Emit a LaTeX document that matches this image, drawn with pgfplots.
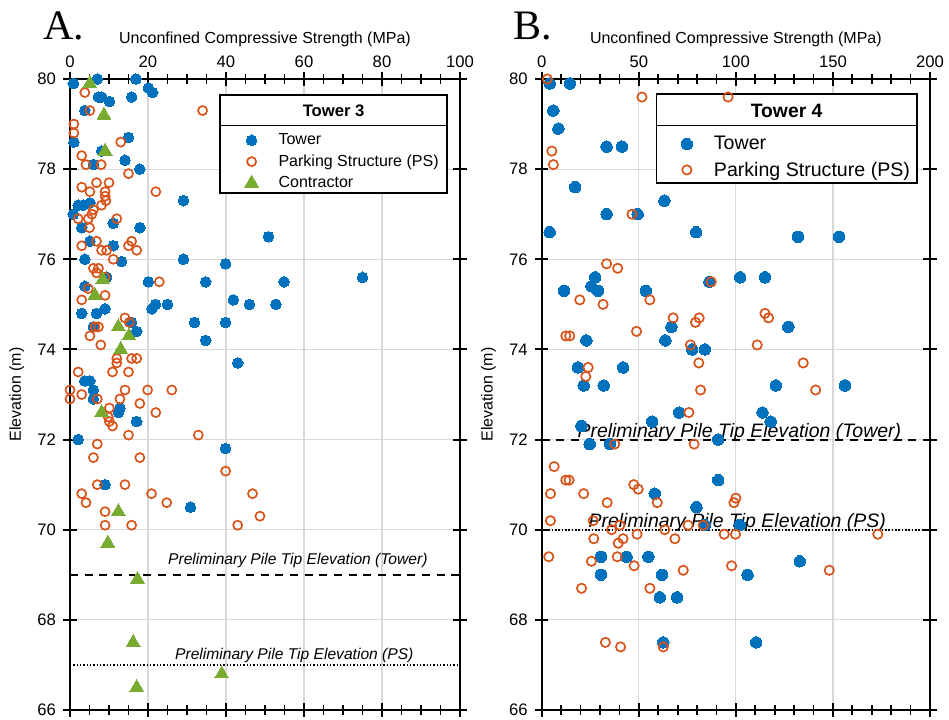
\documentclass[border=0pt]{standalone}
\usepackage{pgfplots}
\pgfplotsset{compat=1.18}
\usepackage{fontspec}
\setmainfont{Liberation Sans}
\newfontfamily\seriffont{Liberation Serif}
\definecolor{mblue}{RGB}{0,114,189}
\definecolor{morange}{RGB}{217,83,25}
\definecolor{mgreen}{RGB}{119,172,48}
\pgfplotsset{
  myaxis/.style={
    scale only axis, anchor=south west,
    height=473.25pt,
    ymin=66, ymax=80, ytick={66,68,...,80},
    xticklabel pos=upper,
    tick align=center, tick pos=both,
    major tick length=10pt, minor tick length=7pt,
    axis line style={line width=1.7pt},
    every major tick/.append style={black, line width=1.5pt},
    every minor tick/.append style={black, line width=1.3pt},
    ymajorgrids, xmajorgrids,
    major grid style={black!15, line width=0.9pt},
    /pgf/number format/assume math mode=true,
    ticklabel style={font=\fontsize{12.5}{14}\selectfont},
    yticklabel style={xshift=-2pt},
    label style={font=\fontsize{12}{14}\selectfont},
    ylabel style={yshift=3pt},
    xlabel={Unconfined Compressive Strength (MPa)},
    ylabel={Elevation (m)},
    clip=false,
    legend cell align=left,
  },
  tower/.style={only marks, mark=*, mark size=4pt, mark options={fill=mblue, draw=mblue, line width=0pt}},
  park/.style={only marks, mark=o, mark size=3.4pt, mark options={draw=morange, line width=1.25pt}},
  contr/.style={only marks, mark=triangle*, mark size=6pt, mark options={fill=mgreen, draw=mgreen, line width=0pt}},
}
\begin{document}
\begin{tikzpicture}
\useasboundingbox (0,0) rectangle (711.75pt,539.25pt);
% ---------------- Panel A ----------------
\begin{axis}[myaxis, at={(52.5pt,6.75pt)}, width=292.5pt,
  xmin=0, xmax=100, xtick={0,20,...,100},
  minor xtick={5,10,15,25,30,35,45,50,55,65,70,75,85,90,95},
  legend style={draw=none, fill=none, at={(rel axis cs:0.437,0.922)}, anchor=north west,
    font=\fontsize{12}{14}\selectfont, row sep=2pt,
    /tikz/every odd column/.append style={column sep=13pt}},
]
\addplot[tower] coordinates {
(0.85,79.9) (7.0,80.0) (16.9,80.0) (20.1,79.8) (21.2,79.7) (7.3,79.6) (8.1,79.6) (10.1,79.5)
(15.8,79.6) (3.8,79.3) (15.0,78.7) (1.0,78.6) (8.1,78.4) (14.1,78.2) (17.9,78.0) (6.0,78.1)
(29.1,77.3) (2.1,77.2) (3.4,77.2) (5.1,77.25) (0.85,77.0) (11.1,76.8) (17.9,76.7) (50.9,76.5)
(3.0,76.7) (5.1,76.4) (11.1,76.3) (3.8,76.0) (13.2,75.95) (29.1,76.0) (39.9,75.9) (20.1,75.5)
(34.8,75.5) (9.4,75.6) (3.8,75.4) (41.9,75.1) (46.0,75.0) (52.8,75.0) (21.0,74.9) (21.9,75.0)
(25.0,75.0) (3.0,74.8) (6.8,74.8) (9.0,74.9) (54.9,75.5) (75.0,75.6) (31.9,74.6) (39.9,74.6)
(34.8,74.2) (6.0,74.5) (15.8,74.6) (17.1,74.4) (43.0,73.7) (3.8,73.3) (5.1,73.3) (6.0,73.1)
(6.0,72.9) (12.8,72.7) (12.4,72.6) (17.1,72.4) (2.1,72.0) (39.9,71.8) (9.0,71.0) (30.9,70.5)
};
\addlegendentry{Tower}
\addplot[park] coordinates {
(3.8,79.7) (5.1,79.3) (34.0,79.3) (1.0,79.0) (1.0,78.8) (13.0,78.6) (3.0,78.3) (4.1,78.1)
(8.0,78.1) (15.0,77.9) (3.0,77.6) (6.8,77.7) (10.0,77.7) (22.0,77.5) (5.1,77.5) (9.0,77.5)
(9.0,77.4) (9.2,77.3) (8.1,77.2) (6.0,77.1) (5.6,77.0) (2.1,76.9) (4.7,76.9) (12.0,76.9)
(5.0,76.7) (3.0,76.3) (6.8,76.4) (8.1,76.2) (9.4,76.2) (15.8,76.4) (15.0,76.3) (17.1,76.2)
(11.1,76.0) (6.0,75.8) (7.3,75.8) (6.8,75.7) (9.0,75.6) (22.9,75.5) (4.7,75.35) (9.0,75.2)
(3.0,75.1) (14.1,74.7) (15.2,74.6) (6.4,74.5) (7.3,74.5) (5.1,74.3) (7.9,74.1) (12.0,73.8)
(12.0,73.7) (15.8,73.8) (17.1,73.8) (2.1,73.5) (10.9,73.5) (15.0,73.5) (0.0,73.1) (0.0,72.9)
(3.0,73.0) (14.1,73.1) (19.9,73.1) (26.1,73.1) (7.0,72.9) (12.8,72.9) (17.9,72.8) (10.1,72.7)
(22.0,72.6) (9.8,72.5) (10.1,72.4) (10.9,72.3) (15.0,72.1) (32.9,72.1) (7.0,71.9) (6.0,71.6)
(17.9,71.6) (39.9,71.3) (7.0,71.0) (14.1,71.0) (3.0,70.8) (4.1,70.6) (20.9,70.8) (24.8,70.6)
(46.8,70.8) (9.0,70.4) (48.7,70.3) (9.0,70.1) (15.8,70.1) (43.0,70.1)
};
\addlegendentry{Parking Structure (PS)}
\addplot[contr] coordinates {
(5.1,79.9) (8.7,79.2) (9.0,78.4) (8.4,75.55) (6.4,75.2) (12.4,74.5) (15.1,74.3) (13.0,74.0)
(8.1,72.6) (12.4,70.4) (9.7,69.7) (17.3,68.9) (16.2,67.5) (38.9,66.8) (17.1,66.5)
};
\addlegendentry{Contractor}
\addplot[black, line width=1.5pt, dash pattern=on 6pt off 5pt, forget plot] coordinates {(0,69) (100,69)};
\addplot[black, line width=1.5pt, dash pattern=on 1.1pt off 1.4pt, forget plot] coordinates {(0,67) (100,67)};
\node[anchor=base west, inner sep=0, font=\fontsize{11.7}{13}\itshape] at (axis cs:25.1,69.22) {Preliminary Pile Tip Elevation (Tower)};
\node[anchor=base west, inner sep=0, font=\fontsize{11.7}{13}\itshape] at (axis cs:26.9,67.12) {Preliminary Pile Tip Elevation (PS)};
\draw[line width=1.3pt, fill=white] (rel axis cs:0.3846,0.8189) rectangle (rel axis cs:0.9674,0.9746);
\draw[line width=1.1pt] (rel axis cs:0.3846,0.926) -- (rel axis cs:0.9674,0.926);
\node[font=\fontsize{12.5}{14}\selectfont\bfseries] at (rel axis cs:0.676,0.950) {Tower 3};
\end{axis}
% ---------------- Panel B ----------------
\begin{axis}[myaxis, at={(406.3pt,6.75pt)}, width=291.2pt,
  xmin=0, xmax=200, xtick={0,50,...,200},
  minor xtick={10,20,30,40,60,70,80,90,110,120,130,140,160,170,180,190},
  legend style={draw=none, fill=none, at={(rel axis cs:0.348,0.918)}, anchor=north west,
    font=\fontsize{14.7}{16}\selectfont, row sep=3.5pt,
    /tikz/every odd column/.append style={column sep=14pt}},
  tower/.append style={mark size=4.3pt},
  park/.append style={mark size=3.5pt},
]
\addplot[tower] coordinates {
(4.1,79.9) (14.5,79.9) (6.0,79.3) (8.6,78.9) (33.4,78.5) (41.3,78.5) (17.2,77.6) (63.2,77.3)
(33.4,77.0) (49.4,77.0) (4.1,76.6) (79.5,76.6) (132.0,76.5) (153.2,76.5) (27.5,75.6) (86.4,75.5)
(102.2,75.6) (115.0,75.6) (11.5,75.3) (25.6,75.4) (29.0,75.3) (53.6,75.3) (66.8,74.5) (127.0,74.5)
(23.0,74.2) (63.7,74.2) (77.5,74.0) (84.0,74.0) (18.7,73.6) (41.9,73.6) (21.6,73.2) (31.9,73.2)
(120.6,73.2) (156.2,73.2) (70.8,72.6) (113.7,72.6) (117.9,72.4) (20.4,72.3) (56.9,72.4) (24.7,71.9)
(35.1,71.9) (90.9,72.0) (90.9,71.1) (58.2,70.8) (79.7,70.5) (84.0,70.1) (102.0,70.1) (30.5,69.4)
(43.7,69.4) (54.9,69.4) (30.5,69.0) (62.0,69.0) (106.0,69.0) (132.9,69.3) (60.8,68.5) (69.7,68.5)
(62.6,67.5) (110.5,67.5)
};
\addlegendentry{Tower}
\addplot[park] coordinates {
(2.9,80.0) (51.6,79.6) (96.0,79.6) (5.2,78.4) (6.0,78.1) (46.5,77.0) (33.4,75.9) (39.1,75.8)
(87.3,75.5) (19.6,75.1) (31.6,75.0) (55.7,75.1) (67.7,74.7) (79.2,74.6) (81.1,74.7) (115.0,74.8)
(116.8,74.7) (48.8,74.4) (12.4,74.3) (14.4,74.3) (76.6,74.1) (111.0,74.1) (134.7,73.7) (23.9,73.6)
(22.7,73.4) (80.9,73.7) (81.8,73.1) (141.1,73.1) (75.8,72.6) (37.6,71.9) (78.5,71.9) (6.4,71.4)
(12.4,71.1) (14.1,71.1) (47.4,71.0) (49.7,70.9) (4.5,70.8) (21.6,70.8) (100.0,70.7) (33.7,70.6)
(59.5,70.6) (99.0,70.6) (4.5,70.2) (26.5,70.2) (36.0,70.0) (40.2,70.1) (49.1,69.9) (63.4,70.0)
(75.4,70.1) (83.2,70.1) (94.0,69.9) (99.8,69.9) (68.6,69.8) (26.8,69.8) (41.9,69.8) (39.4,69.7)
(173.1,69.9) (3.6,69.4) (25.6,69.3) (38.9,69.4) (47.6,69.2) (72.9,69.1) (97.8,69.2) (148.1,69.1)
(20.5,68.7) (55.7,68.7) (32.8,67.5) (40.6,67.4) (62.6,67.4)
};
\addlegendentry{Parking Structure (PS)}
\addplot[black, line width=1.5pt, dash pattern=on 6pt off 5pt, forget plot] coordinates {(0,72) (200,72)};
\addplot[black, line width=1.5pt, dash pattern=on 1.1pt off 1.4pt, forget plot] coordinates {(0,70) (200,70)};
\node[anchor=base west, inner sep=0, font=\fontsize{14.6}{16}\itshape] at (axis cs:18.3,72.04) {Preliminary Pile Tip Elevation (Tower)};
\node[anchor=base west, inner sep=0, font=\fontsize{14.6}{16}\itshape] at (axis cs:24.0,70.04) {Preliminary Pile Tip Elevation (PS)};
\draw[line width=1.3pt, fill=white] (rel axis cs:0.2956,0.8357) rectangle (rel axis cs:0.9656,0.9758);
\draw[line width=1.1pt] (rel axis cs:0.2956,0.926) -- (rel axis cs:0.9656,0.926);
\node[font=\fontsize{14.5}{16}\selectfont\bfseries] at (rel axis cs:0.6306,0.950) {Tower 4};
\end{axis}
\node[anchor=base west, inner sep=0, font=\seriffont\fontsize{31.5}{34}\selectfont] at (32.5pt,509.25pt) {A.};
\node[anchor=base west, inner sep=0, font=\seriffont\fontsize{31.5}{34}\selectfont] at (385pt,509.25pt) {B.};
\end{tikzpicture}
\end{document}
